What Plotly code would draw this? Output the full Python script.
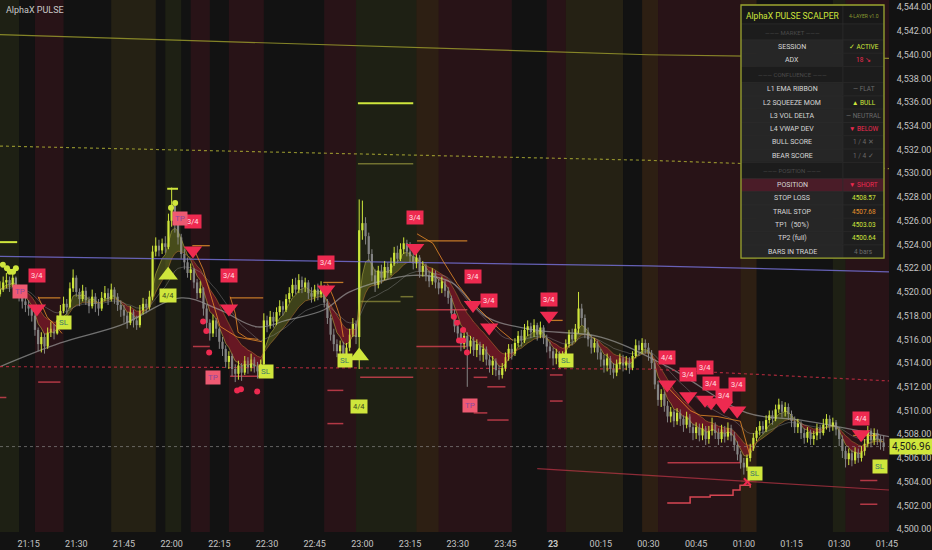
import pandas as pd
import plotly.graph_objects as go

DAY0 = "2024-01-22"
DAY1 = "2024-01-23"

# 1-minute bars from 21:06 to 01:44 (open = previous close)
first_open = 4519.8
close = [
    4520.2, 4520.8, 4521.0, 4520.6, 4521.2, 4520.4, 4519.8, 4519.2, 4518.9,
    # 21:15
    4518.6, 4518.0, 4516.8, 4515.6, 4516.2, 4515.4, 4516.6, 4516.9, 4516.5, 4517.6, 4518.4, 4519.0, 4518.7, 4520.3, 4521.2,
    # 21:30
    4520.0, 4519.4, 4520.1, 4519.3, 4518.8, 4519.6, 4519.0, 4518.6, 4519.5, 4519.9, 4519.4, 4520.2, 4519.6, 4518.9, 4518.5,
    # 21:45
    4518.0, 4517.4, 4518.3, 4517.6, 4517.2, 4518.4, 4519.0, 4518.7, 4519.6, 4523.4, 4523.9, 4523.5, 4524.1, 4523.8, 4526.0,
    # 22:00
    4527.3, 4525.8, 4524.6, 4523.2, 4522.5, 4521.6, 4521.9, 4520.8, 4519.9, 4520.3, 4518.6, 4517.4, 4516.5, 4517.6, 4516.9,
    # 22:15
    4515.8, 4515.2, 4514.1, 4514.6, 4513.5, 4513.1, 4513.8, 4513.2, 4514.2, 4513.6, 4514.3, 4513.7, 4513.3, 4513.9, 4517.6,
    # 22:30
    4517.2, 4517.9, 4517.5, 4518.3, 4518.8, 4518.5, 4519.4, 4519.9, 4520.6, 4520.2, 4521.0, 4520.4, 4520.8, 4519.9, 4519.6,
    # 22:45
    4520.2, 4519.8, 4520.3, 4519.1, 4517.8, 4516.4, 4515.6, 4515.0, 4515.5, 4514.6, 4515.3, 4516.4, 4517.3, 4516.2, 4525.2,
    # 23:00
    4525.8, 4524.7, 4523.2, 4521.4, 4520.6, 4521.8, 4521.2, 4522.1, 4521.6, 4522.4, 4523.3, 4522.8, 4523.6, 4524.1, 4523.4,
    # 23:15
    4523.0, 4522.4, 4522.9, 4521.7, 4522.2, 4521.4, 4520.9, 4521.6, 4520.8, 4520.3, 4520.9, 4520.1, 4519.5, 4518.2, 4517.1,
    # 23:30
    4516.5, 4515.6, 4516.3, 4515.4, 4515.9, 4515.1, 4515.6, 4514.7, 4515.2, 4514.3, 4513.8, 4514.2, 4513.4, 4513.0, 4513.6,
    # 23:45
    4514.5, 4515.2, 4514.8, 4515.7, 4516.3, 4515.9, 4516.8, 4517.1, 4516.6, 4517.2, 4516.4, 4517.0, 4516.1, 4515.4, 4515.0,
    # 00:00
    4514.4, 4514.8, 4514.1, 4514.5, 4515.6, 4516.4, 4516.0, 4516.9, 4518.6, 4517.8, 4516.6, 4516.0, 4515.3, 4515.7, 4514.9,
    # 00:15
    4514.3, 4513.8, 4514.4, 4513.5, 4513.2, 4513.9, 4514.4, 4513.8, 4514.2, 4513.6, 4514.6, 4515.5, 4515.1, 4515.7, 4515.3,
    # 00:30
    4514.8, 4514.0, 4512.2, 4510.9, 4511.4, 4510.4, 4509.5, 4509.9, 4509.1, 4509.8, 4509.3, 4508.8, 4509.5, 4508.6, 4508.1,
    # 00:45
    4508.6, 4507.9, 4508.5, 4507.6, 4508.3, 4508.8, 4508.1, 4507.6, 4508.4, 4507.8, 4508.5, 4507.9, 4507.1, 4506.3, 4505.6,
    # 01:00
    4505.2, 4506.0, 4506.8, 4507.7, 4508.3, 4508.7, 4508.4, 4509.2, 4509.6, 4509.3, 4510.1, 4510.5, 4509.9, 4510.3, 4509.7,
    # 01:15
    4509.1, 4508.6, 4508.9, 4508.1, 4507.7, 4508.2, 4507.6, 4507.9, 4508.5, 4508.1, 4508.8, 4509.3, 4508.7, 4509.0, 4508.4,
    # 01:30
    4507.6, 4506.6, 4505.9, 4506.4, 4505.8, 4506.5, 4506.0, 4506.6, 4507.2, 4508.3, 4507.5, 4508.1, 4507.6, 4507.3, 4506.96,
]
high = [
    4520.9, 4521.3, 4521.6, 4521.3, 4521.8, 4521.3, 4520.6, 4520.0, 4519.6,
    4519.3, 4518.9, 4518.2, 4517.0, 4516.6, 4516.5, 4517.0, 4517.5, 4517.3, 4518.0, 4518.9, 4519.6, 4519.4, 4520.8, 4521.9,
    4521.4, 4520.3, 4520.6, 4520.4, 4519.6, 4520.2, 4519.9, 4519.4, 4520.0, 4520.5, 4520.3, 4520.7, 4520.4, 4519.9, 4519.3,
    4518.9, 4518.3, 4518.8, 4518.5, 4518.0, 4518.9, 4519.5, 4519.4, 4520.1, 4523.9, 4524.6, 4524.4, 4524.5, 4524.7, 4526.6,
    4528.8, 4527.6, 4526.2, 4524.9, 4523.6, 4522.9, 4522.4, 4522.0, 4521.1, 4520.9, 4520.4, 4518.9, 4517.7, 4518.1, 4517.8,
    4517.0, 4516.2, 4515.5, 4515.0, 4514.8, 4513.9, 4514.2, 4514.0, 4514.6, 4514.5, 4514.8, 4514.5, 4514.1, 4514.3, 4518.2,
    4518.0, 4518.4, 4518.3, 4518.7, 4519.3, 4519.2, 4519.8, 4520.4, 4521.1, 4521.2, 4521.5, 4521.3, 4521.2, 4521.0, 4520.4,
    4520.6, 4520.7, 4520.9, 4520.6, 4519.4, 4518.1, 4516.9, 4516.0, 4515.9, 4515.8, 4515.7, 4516.9, 4517.8, 4517.6, 4527.8,
    4527.7, 4526.3, 4525.0, 4523.6, 4521.9, 4522.2, 4522.3, 4522.6, 4522.5, 4522.9, 4523.8, 4523.9, 4524.1, 4524.6, 4524.4,
    4524.2, 4523.6, 4523.3, 4523.1, 4522.6, 4522.4, 4521.8, 4522.0, 4521.8, 4521.1, 4521.3, 4521.0, 4520.4, 4519.7, 4518.5,
    4517.6, 4516.9, 4516.7, 4516.6, 4516.3, 4516.2, 4516.0, 4515.8, 4515.6, 4515.4, 4514.7, 4514.6, 4514.4, 4513.8, 4514.0,
    4514.9, 4515.6, 4515.6, 4516.1, 4516.7, 4516.8, 4517.3, 4517.6, 4517.4, 4517.7, 4517.4, 4517.5, 4517.2, 4516.4, 4515.8,
    4515.3, 4515.2, 4515.0, 4515.0, 4516.0, 4516.8, 4516.9, 4517.3, 4520.0, 4519.0, 4518.1, 4517.0, 4516.4, 4516.1, 4515.9,
    4515.2, 4514.7, 4514.8, 4514.6, 4514.0, 4514.3, 4514.8, 4514.7, 4514.6, 4514.5, 4515.0, 4516.0, 4515.9, 4516.1, 4516.0,
    4515.7, 4515.1, 4514.2, 4512.5, 4511.8, 4511.6, 4510.8, 4510.3, 4510.1, 4510.2, 4510.1, 4509.6, 4509.9, 4509.7, 4508.9,
    4509.0, 4508.9, 4508.9, 4508.7, 4508.7, 4509.4, 4509.0, 4508.5, 4508.8, 4508.7, 4509.0, 4508.8, 4508.2, 4507.4, 4506.6,
    4506.0, 4506.3, 4507.2, 4508.1, 4508.6, 4509.1, 4509.1, 4509.6, 4510.0, 4510.0, 4510.5, 4511.0, 4510.8, 4510.7, 4510.6,
    4510.0, 4509.5, 4509.3, 4509.1, 4508.5, 4508.6, 4508.4, 4508.3, 4508.9, 4508.8, 4509.3, 4509.7, 4509.6, 4509.4, 4509.2,
    4508.6, 4507.9, 4507.0, 4506.8, 4506.7, 4506.9, 4506.8, 4507.0, 4507.6, 4508.7, 4508.5, 4508.5, 4508.4, 4507.9, 4507.9,
]
low = [
    4519.6, 4520.0, 4520.3, 4520.0, 4520.4, 4519.9, 4519.2, 4518.6, 4518.3,
    4518.0, 4517.5, 4516.3, 4515.0, 4514.9, 4514.8, 4515.2, 4516.2, 4516.0, 4516.4, 4517.4, 4518.2, 4518.1, 4518.6, 4520.0,
    4519.6, 4518.8, 4519.2, 4518.9, 4518.2, 4518.6, 4518.3, 4518.0, 4518.4, 4519.2, 4518.9, 4519.2, 4519.0, 4518.4, 4517.9,
    4517.4, 4516.9, 4517.2, 4517.0, 4516.8, 4517.0, 4518.1, 4518.2, 4518.5, 4519.3, 4523.0, 4523.0, 4523.2, 4523.3, 4523.6,
    4525.5, 4525.0, 4524.0, 4522.8, 4521.9, 4521.2, 4521.0, 4520.3, 4519.4, 4519.5, 4518.0, 4516.9, 4515.9, 4516.2, 4516.2,
    4515.2, 4514.6, 4513.6, 4513.5, 4512.9, 4512.4, 4512.6, 4512.5, 4513.0, 4513.1, 4513.3, 4513.2, 4512.7, 4512.9, 4513.6,
    4516.6, 4516.9, 4517.0, 4517.2, 4518.0, 4518.0, 4518.3, 4519.1, 4519.6, 4519.8, 4519.9, 4519.9, 4520.0, 4519.4, 4519.1,
    4519.2, 4519.3, 4519.5, 4518.7, 4517.3, 4515.9, 4515.0, 4514.5, 4514.2, 4514.0, 4514.1, 4515.0, 4516.2, 4515.6, 4513.5,
    4524.4, 4524.0, 4522.6, 4520.9, 4520.0, 4520.3, 4520.7, 4521.0, 4521.1, 4521.4, 4522.2, 4522.4, 4522.6, 4523.2, 4523.0,
    4522.5, 4521.9, 4522.0, 4521.2, 4521.3, 4520.9, 4520.4, 4520.6, 4520.3, 4519.8, 4519.9, 4519.6, 4519.0, 4517.8, 4516.6,
    4516.0, 4515.0, 4515.2, 4512.0, 4514.8, 4514.6, 4514.5, 4514.2, 4514.1, 4513.8, 4513.2, 4513.0, 4512.9, 4512.6, 4512.7,
    4513.3, 4514.2, 4514.3, 4514.6, 4515.4, 4515.4, 4515.7, 4516.3, 4516.1, 4516.2, 4515.9, 4516.1, 4515.6, 4514.9, 4514.4,
    4513.8, 4513.9, 4513.6, 4513.7, 4514.3, 4515.3, 4515.5, 4515.8, 4516.5, 4517.2, 4516.1, 4515.4, 4514.8, 4514.9, 4514.3,
    4513.7, 4513.2, 4513.3, 4513.0, 4512.7, 4512.9, 4513.5, 4513.3, 4513.4, 4513.1, 4513.4, 4514.4, 4514.6, 4514.8, 4514.8,
    4514.2, 4513.5, 4511.8, 4510.4, 4510.3, 4509.9, 4509.0, 4509.0, 4508.6, 4508.8, 4508.7, 4508.2, 4508.5, 4508.1, 4507.5,
    4507.6, 4507.4, 4507.5, 4507.1, 4507.2, 4507.9, 4507.6, 4507.1, 4507.3, 4507.3, 4507.5, 4507.4, 4506.6, 4505.8, 4505.1,
    4504.6, 4504.9, 4505.7, 4506.6, 4507.4, 4507.9, 4508.0, 4508.2, 4508.9, 4508.8, 4509.1, 4509.8, 4509.4, 4509.5, 4509.2,
    4508.6, 4508.1, 4508.1, 4507.6, 4507.2, 4507.3, 4507.1, 4507.1, 4507.5, 4507.6, 4507.9, 4508.4, 4508.2, 4508.3, 4507.9,
    4507.0, 4506.0, 4505.2, 4505.4, 4505.3, 4505.5, 4505.6, 4505.7, 4506.2, 4506.9, 4506.9, 4507.1, 4507.1, 4506.7, 4506.6,
]

# session background bands: start, end, kind
band_start = ["21:06", "21:17", "21:41", "21:58", "22:06", "22:18", "22:48", "22:58", "23:17", "23:24",
              "23:58", "00:04", "00:28", "00:33", "00:59", "01:28", "01:32"]
band_end = ["21:12", "21:26", "21:55", "22:03", "22:12", "22:29", "22:58", "23:17", "23:24", "23:47",
            "00:04", "00:22", "00:33", "00:59", "01:04", "01:32", "01:46"]
band_kind = ["olive", "maroon", "brown", "olive", "maroon", "maroon", "maroon", "olive", "orange", "maroon",
             "maroon", "brown", "orange", "maroon", "orange", "olive", "maroon"]

# slow grey moving average
slow_ma_time = ["21:06", "21:25", "21:44", "22:03", "22:15", "22:27", "22:36", "22:48", "22:56", "23:16",
                "23:28", "23:39", "23:54", "00:15", "00:36", "01:01", "01:18", "01:45:40"]
slow_ma_val = [4513.7, 4515.7, 4517.2, 4519.5, 4518.5, 4517.05, 4517.6, 4518.5, 4520.0, 4521.4,
               4520.8, 4517.9, 4516.8, 4516.2, 4513.7, 4509.8, 4509.2, 4507.8]

# long reference lines
ref_time = ["21:06", "00:30", "01:45:40"]
vwap_val = [4523.0, 4522.2, 4521.7]
upper_val = [4541.7, 4540.0, 4539.7]
upper_dot_val = [4532.3, 4531.1, 4530.4]
lower_dot_val = [4513.7, 4513.5, 4512.5]
drift_time = ["23:55", "01:45:40"]
drift_val = [4505.1, 4503.3]

# signals
short_time = ["21:17:36", "22:06:42", "22:18:00", "22:48:36", "23:16:36", "23:34:48", "23:39:54", "23:58:42",
              "00:35:54", "00:42:30", "00:47:48", "00:49:42", "00:53:48", "00:57:54", "01:36:54"]
short_price = [4518.6, 4523.5, 4518.6, 4520.2, 4523.7, 4518.9, 4517.0, 4518.0,
               4512.2, 4511.2, 4510.9, 4510.7, 4510.4, 4510.0, 4508.0]
short_label_price = [4521.4, 4525.9, 4521.4, 4522.5, 4526.3, 4521.3, 4519.3, 4519.4,
                     4514.5, 4513.0, 4513.6, 4512.3, 4511.3, 4512.2, 4509.3]
short_label = ["3/4", "3/4", "3/4", "3/4", "3/4", "3/4", "3/4", "3/4",
               "4/4", "3/4", "3/4", "3/4", "3/4", "3/4", "4/4"]
long_time = ["21:58:54", "22:59:00"]
long_price = [4521.4, 4514.6]
long_label_price = [4519.7, 4510.3]
long_label = ["4/4", "4/4"]
sl_time = ["21:26:06", "22:29:42", "22:54:36", "00:04:06", "01:03:36", "01:42:54"]
sl_price = [4517.4, 4513.3, 4514.2, 4514.2, 4504.7, 4505.3]
tp_time = ["21:12:18", "22:02:36", "22:13:00", "23:33:54"]
tp_price = [4520.0, 4526.2, 4512.8, 4510.4]
red_dot_time = ["22:09:54", "22:10:54", "22:11:48", "22:20:36", "22:21:48", "22:26:54",
                "23:28:48", "23:29:48", "23:31:42", "23:30:24", "23:31:42", "23:32:54"]
red_dot_price = [4517.5, 4516.7, 4514.9, 4511.7, 4511.8, 4511.6,
                 4517.9, 4517.4, 4516.8, 4515.9, 4515.9, 4514.9]
lime_dot_time = ["21:06:54", "21:08:12", "21:09:06", "21:10:06", "21:11:00", "21:59:48", "22:01:06"]
lime_dot_price = [4522.3, 4522.0, 4521.7, 4521.7, 4522.0, 4527.1, 4527.5]
exit_time = ["01:01:06"]
exit_price = [4504.0]

# horizontal levels: start, end, price
lime_levels = [("21:06", "21:11:24", 4524.2), ("21:58:36", "22:02", 4528.7), ("22:58:36", "23:16", 4535.9)]
olive_levels = [("22:58:36", "23:16", 4530.8), ("22:59:18", "23:12", 4519.2), ("23:12", "23:16", 4519.6)]
orange_levels = [("21:18", "21:25", 4519.5), ("22:06:30", "22:12", 4523.9), ("22:18:24", "22:28:48", 4519.5),
                 ("22:47:42", "22:54", 4520.8), ("23:17:12", "23:33", 4524.3), ("23:59", "00:03", 4517.6),
                 ("01:34:24", "01:42", 4507.9)]
red_levels = [("21:06", "21:08", 4511.1), ("21:18", "21:25", 4512.4), ("22:06:42", "22:12", 4515.4),
              ("22:18:24", "22:28:48", 4512.9), ("22:49", "22:54", 4511.7), ("22:49", "22:54", 4508.9),
              ("22:59:18", "23:16", 4512.8), ("23:17", "23:33", 4518.5), ("23:17", "23:33", 4515.4),
              ("23:35", "23:39:18", 4512.8), ("23:39:18", "23:45", 4512.0), ("23:35", "23:39:18", 4509.8),
              ("23:39:18", "23:46", 4509.2), ("23:59", "00:03", 4513.0), ("23:59", "00:03", 4510.8),
              ("00:36", "00:59", 4505.6), ("01:36:36", "01:42", 4504.1), ("01:36:36", "01:42", 4502.1)]
stop_step_time = ["00:35:54", "00:42:12", "00:43:06", "00:49:24", "00:56:36", "00:58:48", "01:02"]
stop_step_val = [4502.2, 4502.2, 4502.7, 4502.85, 4503.3, 4503.7, 4503.5]

# orange trailing stops after entries
trail_time = [
    ["21:18", "21:20:48", "21:24", "21:25:30"],
    ["22:06:42", "22:09:54", "22:13", "22:15:12", "22:20:36", "22:28:24"],
    ["22:18:24", "22:20", "22:20:54", "22:23:42", "22:27:12"],
    ["22:49", "22:50:48", "22:53", "22:54"],
    ["23:17:12", "23:22:12", "23:25:24", "23:29:48", "23:33:54", "23:39:12", "23:43:18", "23:47:24"],
    ["00:35:54", "00:40", "00:43:06", "00:46:18", "00:51:36", "00:58:54", "01:02"],
]
trail_val = [
    [4519.6, 4517.9, 4517.0, 4516.5],
    [4523.8, 4521.9, 4519.1, 4517.1, 4516.2, 4515.8],
    [4519.6, 4518.2, 4516.6, 4516.1, 4516.0],
    [4520.7, 4519.6, 4517.9, 4516.2],
    [4524.9, 4524.1, 4522.6, 4520.7, 4519.3, 4517.9, 4516.8, 4515.9],
    [4512.0, 4510.9, 4510.0, 4509.6, 4509.5, 4509.1, 4506.1],
]

tick_time = ["21:15", "21:30", "21:45", "22:00", "22:15", "22:30", "22:45", "23:00", "23:15", "23:30",
             "23:45", "00:00", "00:15", "00:30", "00:45", "01:00", "01:15", "01:30", "01:45"]
tick_text = ["21:15", "21:30", "21:45", "22:00", "22:15", "22:30", "22:45", "23:00", "23:15", "23:30",
             "23:45", "<b>23</b>", "00:15", "00:30", "00:45", "01:00", "01:15", "01:30", "01:45"]

# dashboard table: label, value, value colour key, row kind
table_label = ["——— MARKET ———", "SESSION", "ADX", "——— CONFLUENCE ———", "L1 EMA RIBBON", "L2 SQUEEZE MOM",
               "L3 VOL DELTA", "L4 VWAP DEV", "BULL SCORE", "BEAR SCORE", "——— POSITION ———", "POSITION",
               "STOP LOSS", "TRAIL STOP", "TP1  (50%)", "TP2 (full)", "BARS IN TRADE"]
table_value = ["", "✓ ACTIVE", "18 ↘", "", "— FLAT", "▲ BULL", "— NEUTRAL", "▼ BELOW", "1 / 4 ✕", "1 / 4 ✓",
               "", "▼ SHORT", "4508.57", "4507.68", "4503.03", "4500.64", "4 bars"]
table_color = ["dim", "lime", "red", "dim", "dim", "lime", "dim", "red", "dim", "dim",
               "dim", "red", "lime", "orange", "lime", "lime", "dim"]
table_kind = ["sep", "row", "row", "sep", "row", "row", "row", "row", "row", "row",
              "sep", "pos", "row", "row", "row", "row", "row"]

BG = "#121212"
LIME = "#cfe63c"
GREY = "#858585"
RED = "#ee2a50"
ORANGE = "#e8922c"
AXIS_FONT = "#c4c4c4"
BAND_COLORS = {
    "olive": "rgba(150,180,40,0.09)",
    "maroon": "rgba(180,30,60,0.14)",
    "brown": "rgba(180,150,40,0.12)",
    "orange": "rgba(200,110,30,0.15)",
}
VALUE_COLORS = {"lime": LIME, "red": RED, "orange": ORANGE, "dim": "#6a6a6a"}

W, H = 932, 550
PLOT_W, PLOT_H = 889, 532


def ts(hms):
    day = DAY0 if int(hms[:2]) >= 12 else DAY1
    return pd.Timestamp(f"{day} {hms}")


def tlist(items):
    return [ts(t) for t in items]


times = pd.date_range(f"{DAY0} 21:06", periods=len(close), freq="min")
opens = [first_open] + close[:-1]
price = pd.Series(close, index=times)
fast = price.ewm(span=5, adjust=False).mean()
slow = price.ewm(span=13, adjust=False).mean()
mid = price.ewm(span=24, adjust=False).mean()

fig = go.Figure()

# EMA ribbon, coloured by direction
bull = (fast >= slow).to_numpy()
n = len(close)
start = 0
for i in range(1, n + 1):
    if i == n or bull[i] != bull[start]:
        seg = slice(start, min(i + 1, n))
        xs = list(times[seg]) + list(times[seg][::-1])
        ys = list(fast.iloc[seg]) + list(slow.iloc[seg][::-1])
        fill = "rgba(190,205,50,0.26)" if bull[start] else "rgba(150,25,45,0.58)"
        fig.add_trace(go.Scatter(x=xs, y=ys, fill="toself", fillcolor=fill, mode="lines",
                                 line=dict(width=0), hoverinfo="skip", showlegend=False))
        start = i

fig.add_trace(go.Scatter(x=times, y=fast, mode="lines", line=dict(color="rgba(200,200,70,0.5)", width=1),
                         hoverinfo="skip", showlegend=False))
fig.add_trace(go.Scatter(x=times, y=slow, mode="lines", line=dict(color="rgba(190,120,50,0.5)", width=1),
                         hoverinfo="skip", showlegend=False))
fig.add_trace(go.Scatter(x=times, y=mid, mode="lines", line=dict(color="rgba(150,150,150,0.4)", width=1),
                         hoverinfo="skip", showlegend=False))
fig.add_trace(go.Scatter(x=tlist(slow_ma_time), y=slow_ma_val, mode="lines", line_shape="spline",
                         line=dict(color="rgba(175,175,175,0.6)", width=1.3), hoverinfo="skip", showlegend=False))

# long reference lines
rt = tlist(ref_time)
fig.add_trace(go.Scatter(x=rt, y=vwap_val, mode="lines", line=dict(color="rgba(115,110,210,0.85)", width=1.3),
                         hoverinfo="skip", showlegend=False))
fig.add_trace(go.Scatter(x=rt, y=upper_val, mode="lines", line=dict(color="rgba(160,160,45,0.8)", width=1.2),
                         hoverinfo="skip", showlegend=False))
fig.add_trace(go.Scatter(x=rt, y=upper_dot_val, mode="lines",
                         line=dict(color="rgba(170,170,50,0.8)", width=1.2, dash="dot"),
                         hoverinfo="skip", showlegend=False))
fig.add_trace(go.Scatter(x=rt, y=lower_dot_val, mode="lines",
                         line=dict(color="rgba(190,45,65,0.85)", width=1.2, dash="dot"),
                         hoverinfo="skip", showlegend=False))
fig.add_trace(go.Scatter(x=tlist(drift_time), y=drift_val, mode="lines",
                         line=dict(color="rgba(220,60,80,0.6)", width=1.2), hoverinfo="skip", showlegend=False))
fig.add_trace(go.Scatter(x=[times[0], ts("01:45:40")], y=[close[-1], close[-1]], mode="lines",
                         line=dict(color="rgba(150,150,150,0.6)", width=1, dash="dot"),
                         hoverinfo="skip", showlegend=False))


def level_trace(levels, color, width):
    xs, ys = [], []
    for t0, t1, p in levels:
        xs += [ts(t0), ts(t1), None]
        ys += [p, p, None]
    return go.Scatter(x=xs, y=ys, mode="lines", line=dict(color=color, width=width),
                      hoverinfo="skip", showlegend=False)


fig.add_trace(level_trace(olive_levels, "rgba(150,150,60,0.7)", 1.5))
fig.add_trace(level_trace(orange_levels, "rgba(232,146,44,0.8)", 1.3))
fig.add_trace(level_trace(red_levels, "rgba(225,70,85,0.75)", 1.5))
fig.add_trace(level_trace(lime_levels, LIME, 2))
fig.add_trace(go.Scatter(x=tlist(stop_step_time), y=stop_step_val, mode="lines", line_shape="hv",
                         line=dict(color="rgba(235,75,90,0.9)", width=1.5), hoverinfo="skip", showlegend=False))

for tt, vv in zip(trail_time, trail_val):
    fig.add_trace(go.Scatter(x=tlist(tt), y=vv, mode="lines", line=dict(color="rgba(232,140,40,0.8)", width=1),
                             hoverinfo="skip", showlegend=False))

# candles: wicks as line segments, bodies as bars so the body width can be set
up = [c >= o for o, c in zip(opens, close)]
for is_up, color in ((True, LIME), (False, GREY)):
    wx, wy = [], []
    for t, hi, lo, u in zip(times, high, low, up):
        if u == is_up:
            wx += [t, t, None]
            wy += [lo, hi, None]
    fig.add_trace(go.Scatter(x=wx, y=wy, mode="lines", line=dict(color=color, width=1),
                             hoverinfo="skip", showlegend=False))
body_base = [min(o, c) for o, c in zip(opens, close)]
body_size = [max(abs(c - o), 0.08) for o, c in zip(opens, close)]
fig.add_trace(go.Bar(x=times, y=body_size, base=body_base, width=42000,
                     marker=dict(color=[LIME if u else GREY for u in up], line=dict(width=0)),
                     hoverinfo="skip", showlegend=False))

# markers
fig.add_trace(go.Scatter(x=tlist(red_dot_time), y=red_dot_price, mode="markers",
                         marker=dict(color=RED, size=6), hoverinfo="skip", showlegend=False))
fig.add_trace(go.Scatter(x=tlist(lime_dot_time), y=lime_dot_price, mode="markers",
                         marker=dict(color=LIME, size=6), hoverinfo="skip", showlegend=False))
fig.add_trace(go.Scatter(x=tlist(exit_time), y=exit_price, mode="markers",
                         marker=dict(color=RED, size=7, symbol="x-thin", line=dict(color=RED, width=2)),
                         hoverinfo="skip", showlegend=False))
fig.add_trace(go.Scatter(x=tlist(short_time), y=short_price, mode="markers",
                         marker=dict(color=RED, size=16, symbol="triangle-down"),
                         hoverinfo="skip", showlegend=False))
fig.add_trace(go.Scatter(x=tlist(long_time), y=long_price, mode="markers",
                         marker=dict(color=LIME, size=17, symbol="triangle-up"),
                         hoverinfo="skip", showlegend=False))

annotations = []
for t, p, txt in zip(short_time, short_label_price, short_label):
    annotations.append(dict(x=ts(t), y=p, text=txt, showarrow=False, bgcolor=RED, borderpad=2,
                            font=dict(color="#ffe0e6", size=7.5, family="Roboto")))
for t, p, txt in zip(long_time, long_label_price, long_label):
    annotations.append(dict(x=ts(t), y=p, text=txt, showarrow=False, bgcolor=LIME, borderpad=2,
                            font=dict(color="#3a4a20", size=7.5, family="Roboto")))
for t, p in zip(sl_time, sl_price):
    annotations.append(dict(x=ts(t), y=p, text="SL", showarrow=False, bgcolor=LIME, borderpad=2,
                            font=dict(color="#3b7a66", size=8, family="Roboto")))
for t, p in zip(tp_time, tp_price):
    annotations.append(dict(x=ts(t), y=p, text="TP", showarrow=False, bgcolor="#ee5a72", borderpad=2,
                            font=dict(color="#8a4aa0", size=8, family="Roboto")))

# current price tag
annotations.append(dict(xref="paper", x=1.0, xanchor="left", y=close[-1], text=f"{close[-1]:,.2f}",
                        showarrow=False, bgcolor=LIME, borderpad=2,
                        font=dict(color="#1a1a1a", size=10, family="Roboto")))
annotations.append(dict(xref="paper", yref="paper", x=0.005, y=0.995, xanchor="left", yanchor="top",
                        text="AlphaX PULSE", showarrow=False,
                        font=dict(color="#c8c8c8", size=9, family="Roboto")))

shapes = []
for s, e, k in zip(band_start, band_end, band_kind):
    shapes.append(dict(type="rect", xref="x", yref="paper", x0=ts(s), x1=ts(e), y0=0, y1=1,
                       fillcolor=BAND_COLORS[k], line=dict(width=0), layer="below"))


# dashboard table in pixel space
def fx(px):
    return px / PLOT_W


def fy(py):
    return 1 - py / PLOT_H


TX0, TX1, TX2 = 741, 843, 884
TOP = 5
HEAD_H = 19
SEP_H = 16
ROW_H = 13.3


def cell(x0, x1, y0, y1, fill):
    shapes.append(dict(type="rect", xref="paper", yref="paper", x0=fx(x0), x1=fx(x1), y0=fy(y1), y1=fy(y0),
                       fillcolor=fill, line=dict(color="#2c2c2c", width=0.6), layer="above"))


def text(xc, yc, s, color, size):
    annotations.append(dict(xref="paper", yref="paper", x=fx(xc), y=fy(yc), text=s, showarrow=False,
                            xanchor="center", yanchor="middle",
                            font=dict(color=color, size=size, family="Roboto")))


cell(TX0, TX1, TOP, TOP + HEAD_H, "#181818")
cell(TX1, TX2, TOP, TOP + HEAD_H, "#181818")
text((TX0 + TX1) / 2, TOP + HEAD_H / 2 + 1, "AlphaX PULSE SCALPER", LIME, 8.5)
text((TX1 + TX2) / 2, TOP + HEAD_H / 2 + 1, "4-LAYER v1.0", "#8a9a30", 5)

y = TOP + HEAD_H
for lab, val, col, kind in zip(table_label, table_value, table_color, table_kind):
    h = SEP_H if kind == "sep" else ROW_H
    if kind == "sep":
        cell(TX0, TX1, y, y + h, "#1c1c1c")
        cell(TX1, TX2, y, y + h, "#1c1c1c")
        text((TX0 + TX1) / 2, y + h / 2, lab, "#4a4a4a", 6)
    else:
        left_fill = "#4a1c28" if kind == "pos" else "#262626"
        right_fill = "#4a1c28" if kind == "pos" else "#1e1e1e"
        cell(TX0, TX1, y, y + h, left_fill)
        cell(TX1, TX2, y, y + h, right_fill)
        text((TX0 + TX1) / 2, y + h / 2, lab, "#d6d6d6", 7)
        text((TX1 + TX2) / 2, y + h / 2, val, VALUE_COLORS[col], 6.5)
    y += h

shapes.append(dict(type="rect", xref="paper", yref="paper", x0=fx(TX0), x1=fx(TX2), y0=fy(y), y1=fy(TOP),
                   line=dict(color="#9aa42e", width=1.3), fillcolor="rgba(0,0,0,0)", layer="above"))

y_top = 4544 + 7.3 / 11.86
y_bot = 4544 - (PLOT_H - 7.3) / 11.86

fig.update_layout(
    width=W, height=H,
    paper_bgcolor=BG, plot_bgcolor=BG,
    margin=dict(l=0, r=W - PLOT_W, t=0, b=H - PLOT_H),
    shapes=shapes,
    annotations=annotations,
    showlegend=False,
    hovermode=False,
    barmode="overlay",
    xaxis=dict(
        type="date", range=[ts("21:06"), ts("01:45:40")],
        rangeslider=dict(visible=False),
        tickvals=tlist(tick_time), ticktext=tick_text,
        showgrid=False, zeroline=False, showline=False,
        ticks="outside", ticklen=3, tickcolor="rgba(0,0,0,0)",
        tickfont=dict(color=AXIS_FONT, size=9, family="Roboto"),
    ),
    yaxis=dict(
        side="right", range=[y_bot, y_top],
        tickvals=list(range(4500, 4545, 2)), tickformat=",.2f",
        showgrid=False, zeroline=False, showline=False,
        ticks="outside", ticklen=5, tickcolor="rgba(0,0,0,0)",
        tickfont=dict(color=AXIS_FONT, size=9, family="Roboto"),
    ),
)

# the page body has a default 8px margin; drop it so the figure fills the window
fig.write_html("out.html", config={"displayModeBar": False},
               post_script="document.body.style.margin='0';")
